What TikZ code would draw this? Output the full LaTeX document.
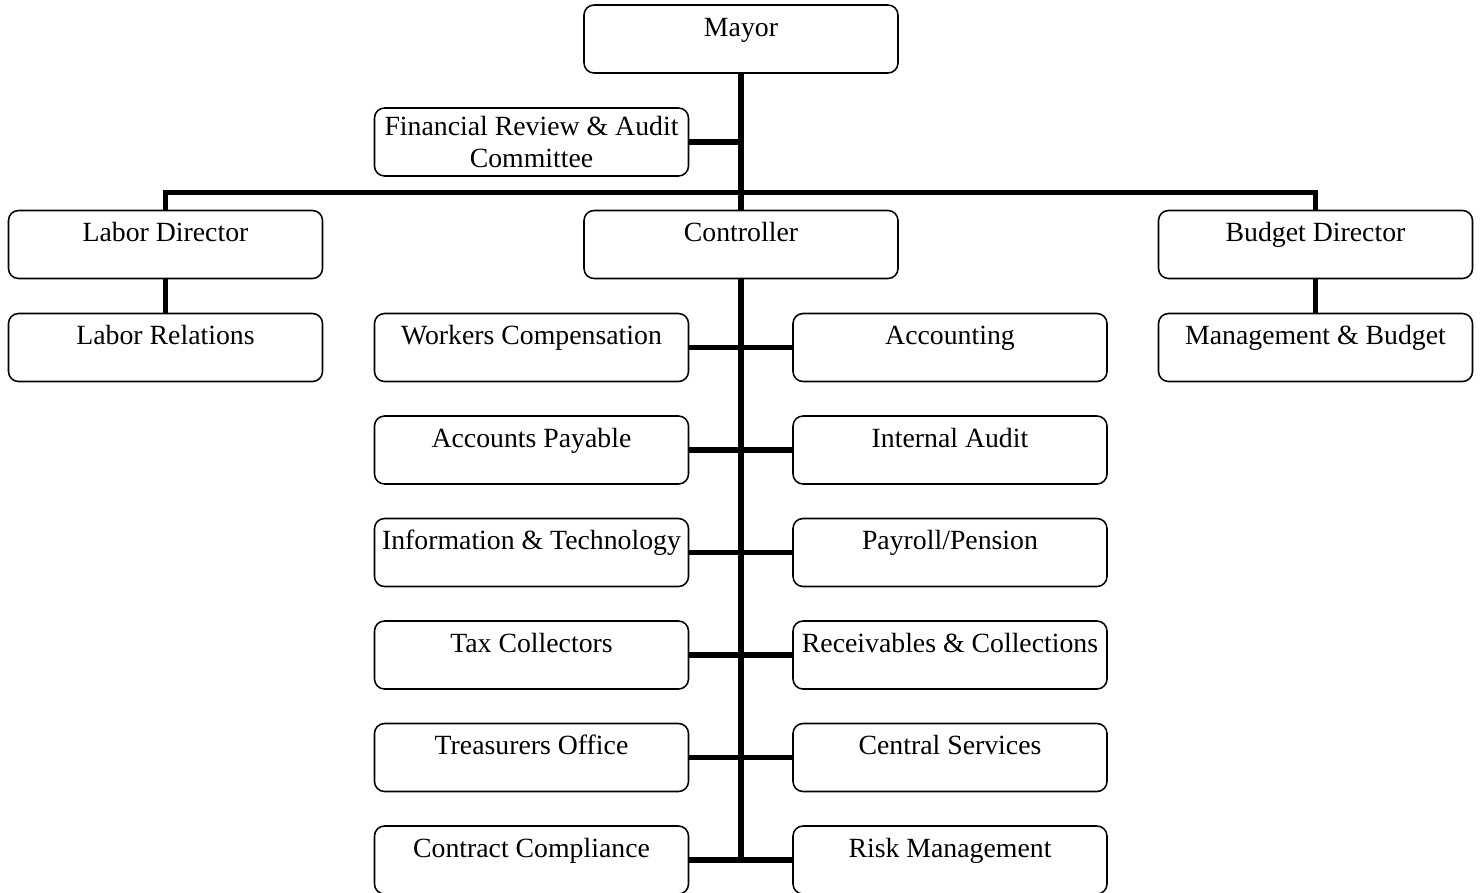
\documentclass[tikz,border=0pt]{standalone}
\usepackage{fontspec}
\setmainfont{Liberation Serif}
\usepackage{tikz}

\begin{document}
\begin{tikzpicture}
  [x=0.45pt,y=-0.45pt,
   every node/.style={draw,rounded corners=4.5pt,line width=0.7pt,minimum width=141.3pt,minimum height=30.6pt,inner xsep=1pt,font=\fontsize{12.5}{14}\selectfont},
   unit/.style={inner ysep=2pt,text height=12pt,text depth=14.6pt},
   link/.style={line width=2.3pt}]
  \useasboundingbox (0,0) rectangle (1480,892);

  \node[unit] (mayor) at (741,39) {Mayor};
  \node[align=center] (fin) at (531.5,142) {Financial Review \& Audit\\Committee};
  \node[unit] (labor) at (165.5,244.5) {Labor Director};
  \node[unit] (ctrl) at (741,244.5) {Controller};
  \node[unit] (budget) at (1315.5,244.5) {Budget Director};
  \node[unit] (laborrel) at (165.5,347.5) {Labor Relations};
  \node[unit] (mgmt) at (1315.5,347.5) {Management \& Budget};

  \node[unit] (wc) at (531.5,347.5) {Workers Compensation};
  \node[unit] (acc) at (950,347.5) {Accounting};
  \node[unit] (ap) at (531.5,450) {Accounts Payable};
  \node[unit] (ia) at (950,450) {Internal Audit};
  \node[unit] (it) at (531.5,552.5) {Information \& Technology};
  \node[unit] (pay) at (950,552.5) {Payroll/Pension};
  \node[unit] (tax) at (531.5,655) {Tax Collectors};
  \node[unit] (rec) at (950,655) {Receivables \& Collections};
  \node[unit] (treas) at (531.5,757.5) {Treasurers Office};
  \node[unit] (cs) at (950,757.5) {Central Services};
  \node[unit] (cc) at (531.5,860) {Contract Compliance};
  \node[unit] (risk) at (950,860) {Risk Management};

  \coordinate (bar) at (741,192.5);

  \draw[link] (mayor) -- (ctrl);
  \draw[link] (fin.east) -- (fin.east -| mayor.south);
  \draw[link] (labor.north) |- (bar) -| (budget.north);
  \draw[link] (ctrl.south) -- (ctrl.south |- cc.east);
  \draw[link] (labor) -- (laborrel);
  \draw[link] (budget) -- (mgmt);

  \foreach \from/\to in {wc/acc,ap/ia,it/pay,tax/rec,treas/cs,cc/risk}
    \draw[link] (\from.east) -- (\to.west);
\end{tikzpicture}
\end{document}
